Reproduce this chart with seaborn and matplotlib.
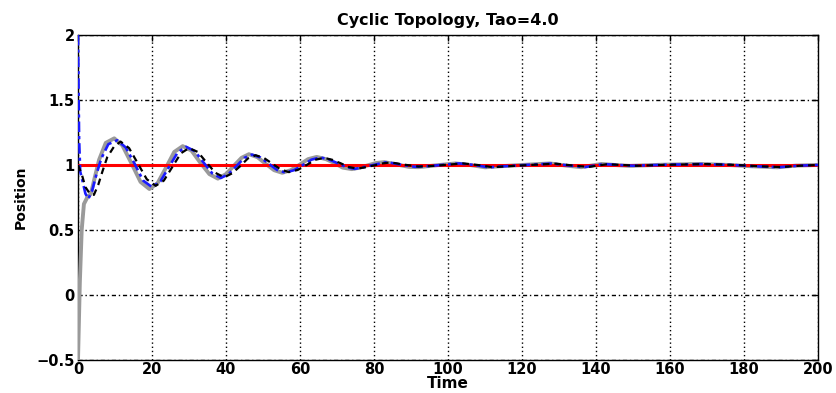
import matplotlib
matplotlib.use("Agg")
import matplotlib.pyplot as plt
import seaborn as sns
import pandas as pd

# ---- data ----
leader_t = [0, 200]
leader_y = [1.0, 1.0]

gray_t = [0, 0.5, 1.0, 1.6, 2.5, 3.5, 4.5, 5.7, 7.5, 9.8, 12.0, 14.5, 16.9, 19.3,
          21.5, 23.8, 26.0, 28.3, 30.7, 33.0, 35.5, 37.8, 40.0, 42.0, 44.2, 46.2,
          48.5, 50.7, 53.0, 55.2, 57.5, 59.8, 62.2, 64.5, 67.0, 69.3, 71.5, 74.0,
          76.2, 78.3, 80.5, 82.8, 86, 89.5, 92, 96, 102, 106, 110, 114, 120, 127.5,
          132, 136, 141.5, 145, 149, 158, 168, 176, 182, 189, 194, 200]
gray_y = [-0.5, 0.1, 0.5, 0.70, 0.75, 0.78, 0.90, 1.04, 1.17, 1.205, 1.15, 1.01, 0.87, 0.815,
          0.86, 0.98, 1.10, 1.145, 1.11, 1.02, 0.93, 0.895, 0.93, 0.99, 1.055, 1.083,
          1.06, 1.01, 0.96, 0.94, 0.96, 1.0, 1.045, 1.062, 1.045, 1.015, 0.98, 0.968,
          0.98, 0.997, 1.015, 1.022, 1.005, 0.985, 0.983, 0.995, 1.012, 1.0, 0.982, 0.99, 1.0, 1.012,
          0.995, 0.983, 1.008, 1.0, 0.993, 1.002, 1.008, 1.0, 0.99, 0.982, 0.995, 1.0]

black_t = [0, 1.0, 2.0, 3.2, 4.3, 5.5, 6.6, 7.9, 9.7, 11.5, 13.8, 16.2, 18.6, 21.0,
           23.2, 25.5, 27.8, 30.0, 32.4, 34.8, 37.1, 39.5, 41.6, 43.8, 45.9, 48.0,
           50.2, 52.5, 54.8, 57.0, 59.4, 61.8, 64.1, 66.5, 68.7, 71.0, 73.2, 75.5,
           77.8, 80.0, 82.3, 84.5, 88, 92, 96, 104, 108, 112, 116, 122, 129, 134,
           138, 143, 147, 151, 160, 170, 178, 184, 190, 195, 200]
black_y = [1.0, 0.93, 0.83, 0.78, 0.77, 0.85, 0.95, 1.06, 1.14, 1.18, 1.13, 1.01, 0.89, 0.84,
           0.88, 0.985, 1.09, 1.13, 1.10, 1.017, 0.94, 0.905, 0.935, 0.99, 1.05, 1.075,
           1.055, 1.01, 0.965, 0.945, 0.962, 1.0, 1.04, 1.055, 1.04, 1.013, 0.984, 0.972,
           0.983, 0.997, 1.012, 1.02, 1.003, 0.988, 0.993, 1.012, 1.0, 0.983, 0.99, 1.0, 1.01, 0.995,
           0.985, 1.006, 1.0, 0.994, 1.002, 1.007, 1.0, 0.99, 0.984, 0.994, 1.0]

blue_t = [0, 0.3, 0.6, 1.2, 2.0, 2.8, 3.8, 5.0, 6.3, 8.2, 10.6, 12.9, 15.3, 17.6, 20.0,
          22.3, 24.6, 26.9, 29.2, 31.6, 33.9, 36.3, 38.6, 40.7, 42.8, 44.9, 47.0,
          49.3, 51.5, 53.8, 56.0, 58.4, 60.8, 63.1, 65.5, 67.8, 70.1, 72.5, 74.8,
          77.0, 79.2, 81.4, 83.5, 87, 91, 95, 103, 107, 111, 115, 121, 128, 133,
          137, 142, 146, 150, 159, 169, 177, 183, 189.5, 195, 200]
blue_y = [2.0, 1.2, 0.95, 0.88, 0.78, 0.74, 0.80, 0.93, 1.05, 1.16, 1.19, 1.135, 1.01, 0.88, 0.83,
          0.875, 0.985, 1.095, 1.14, 1.106, 1.02, 0.935, 0.90, 0.93, 0.99, 1.054, 1.08,
          1.058, 1.011, 0.962, 0.942, 0.96, 1.0, 1.041, 1.058, 1.043, 1.014, 0.984, 0.97,
          0.982, 0.996, 1.01, 1.022, 1.004, 0.986, 0.992, 1.012, 1.0, 0.982, 0.99, 1.0, 1.011, 0.995,
          0.984, 1.007, 1.0, 0.994, 1.002, 1.007, 1.0, 0.99, 0.983, 0.995, 1.0]

x_ticks = [0, 20, 40, 60, 80, 100, 120, 140, 160, 180, 200]
y_ticks = [-0.5, 0, 0.5, 1, 1.5, 2]
y_tick_labels = ["\u22120.5", "0", "0.5", "1", "1.5", "2"]

# ---- style ----
sns.set_style("white")
plt.rcParams["font.family"] = ["DejaVu Sans"]
plt.rcParams["font.weight"] = "bold"
plt.rcParams["text.color"] = "black"
plt.rcParams["axes.labelcolor"] = "black"

fig = plt.figure(figsize=(8.36, 3.93), dpi=100)
ax = fig.add_axes([0.0933, 0.084, 0.8852, 0.827])

sns.lineplot(x=gray_t, y=gray_y, ax=ax, color="#9a9a9a", linewidth=2.8,
             sort=False, estimator=None, zorder=3)
sns.lineplot(x=leader_t, y=leader_y, ax=ax, color="#ff0000", linewidth=2.2,
             sort=False, estimator=None, zorder=4)
sns.lineplot(x=blue_t, y=blue_y, ax=ax, color="#1a1aff", linewidth=1.9,
             sort=False, estimator=None, zorder=5)
ax.lines[-1].set_dashes([4, 1.5, 1.2, 1.5])
sns.lineplot(x=black_t, y=black_y, ax=ax, color="black", linewidth=1.6,
             sort=False, estimator=None, zorder=6)
ax.lines[-1].set_dashes([3, 2.2])

ax.set_xlim(0, 200)
ax.set_ylim(-0.5, 2)
ax.set_xticks(x_ticks)
ax.set_yticks(y_ticks)
ax.set_yticklabels(y_tick_labels)

ax.xaxis.grid(True, linestyle=(0, (1, 2)), color="black", linewidth=1.0)
ax.yaxis.grid(True, linestyle=(0, (3, 2, 1, 2)), color="black", linewidth=1.0)
ax.set_axisbelow(True)

for s in ax.spines.values():
    s.set_visible(True)
    s.set_color("black")
    s.set_linewidth(1.0)

ax.tick_params(direction="in", length=4, width=1, top=True, right=True,
               labelsize=10.5, colors="black")
ax.tick_params(axis="x", pad=1.5)
ax.tick_params(axis="y", pad=2.5)
for lab in ax.get_xticklabels() + ax.get_yticklabels():
    lab.set_fontweight("bold")

ax.set_title("Cyclic Topology, Tao=4.0", fontsize=11.5, fontweight="bold", pad=7,
             color="black")
ax.set_xlabel("Time", fontsize=11, fontweight="bold", labelpad=-1)
ax.set_ylabel("Position", fontsize=10, fontweight="bold", labelpad=6)

fig.savefig("out.png", dpi=100)
